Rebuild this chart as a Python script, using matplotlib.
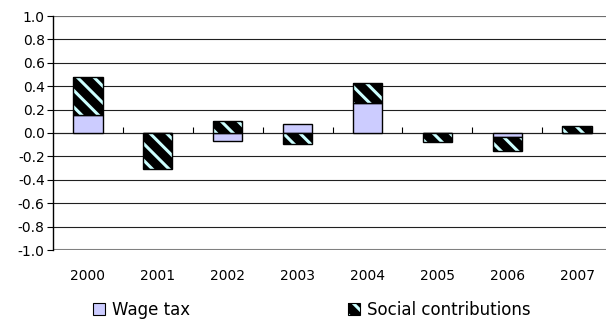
import matplotlib
matplotlib.use("Agg")
import matplotlib.pyplot as plt
import numpy as np
from matplotlib.patches import Patch
from matplotlib.legend_handler import HandlerTuple

years = ["2000", "2001", "2002", "2003", "2004", "2005", "2006", "2007"]
wage_tax = [0.15, 0.0, -0.07, 0.08, 0.26, 0.0, -0.03, 0.0]
social = [0.33, -0.31, 0.10, -0.09, 0.165, -0.08, -0.12, 0.06]
yticks = [1.0, 0.8, 0.6, 0.4, 0.2, 0.0, -0.2, -0.4, -0.6, -0.8, -1.0]

plt.rcParams['font.family'] = ['DejaVu Sans']
plt.rcParams['hatch.linewidth'] = 2.2

fig = plt.figure(figsize=(6.06, 3.24), dpi=100)
ax = fig.add_axes([53/606, 1-250/324, (612-53)/606, 234/324])

x = np.arange(len(years))
w = 0.42
wt = np.array(wage_tax)
sc = np.array(social)
# stacking by sign
sc_bottom = np.where(sc >= 0, np.where(wt > 0, wt, 0), np.where(wt < 0, wt, 0))

ax.bar(x, wt, w, color='#ccccff', edgecolor='black', linewidth=1.0, zorder=3)
ax.bar(x, sc, w, bottom=sc_bottom, color='black', edgecolor='#ccffff',
       hatch='\\\\', linewidth=0, zorder=3)
ax.bar(x, sc, w, bottom=sc_bottom, fill=False, edgecolor='black',
       linewidth=1.0, zorder=4)

ax.set_xlim(-0.5, len(years) - 0.5)
ax.set_ylim(-1.0, 1.0)
ax.set_yticks(yticks)
ax.set_yticklabels([f"{v:.1f}" for v in yticks], fontsize=10)
ax.yaxis.grid(True, color='#202020', linewidth=0.8, zorder=0)
ax.set_axisbelow(True)

ax.set_xticks(x)
ax.set_xticklabels(years, fontsize=10)
ax.tick_params(axis='x', length=0, pad=14)
ax.tick_params(axis='y', length=4, width=0.8, pad=2, direction='out')

for s in ['top', 'right', 'bottom']:
    ax.spines[s].set_visible(False)
ax.spines['left'].set_linewidth(1.0)
ax.spines['left'].set_color('black')

# zero axis with category boundary ticks
sec = ax.secondary_xaxis(0.5)
sec.set_xticks(np.arange(len(years) - 1) + 0.5)
sec.set_xticklabels([])
sec.tick_params(length=4, width=0.8, direction='out', color='black')
sec.spines['bottom'].set_color('#808080')
sec.spines['bottom'].set_linewidth(1.5)

ax.axhline(-1.0, color='#808080', linewidth=1.5, zorder=1)
ax.axhline(1.0, color='#808080', linewidth=1.2, zorder=1)

h1 = Patch(facecolor='#ccccff', edgecolor='black', linewidth=0.8)
h2a = Patch(facecolor='black', edgecolor='#ccffff', hatch='\\\\', linewidth=0)
h2b = Patch(fill=False, edgecolor='black', linewidth=0.8)
fig.legend([h1, (h2a, h2b)], ["Wage tax", "Social contributions"],
           handler_map={tuple: HandlerTuple(ndivide=1, pad=0)},
           loc='center', bbox_to_anchor=(312/606, 1-310/324), ncol=2,
           frameon=False, fontsize=12, handlelength=0.72, handleheight=0.72,
           handletextpad=0.42, columnspacing=9.5)

fig.savefig('out.png', dpi=100)
